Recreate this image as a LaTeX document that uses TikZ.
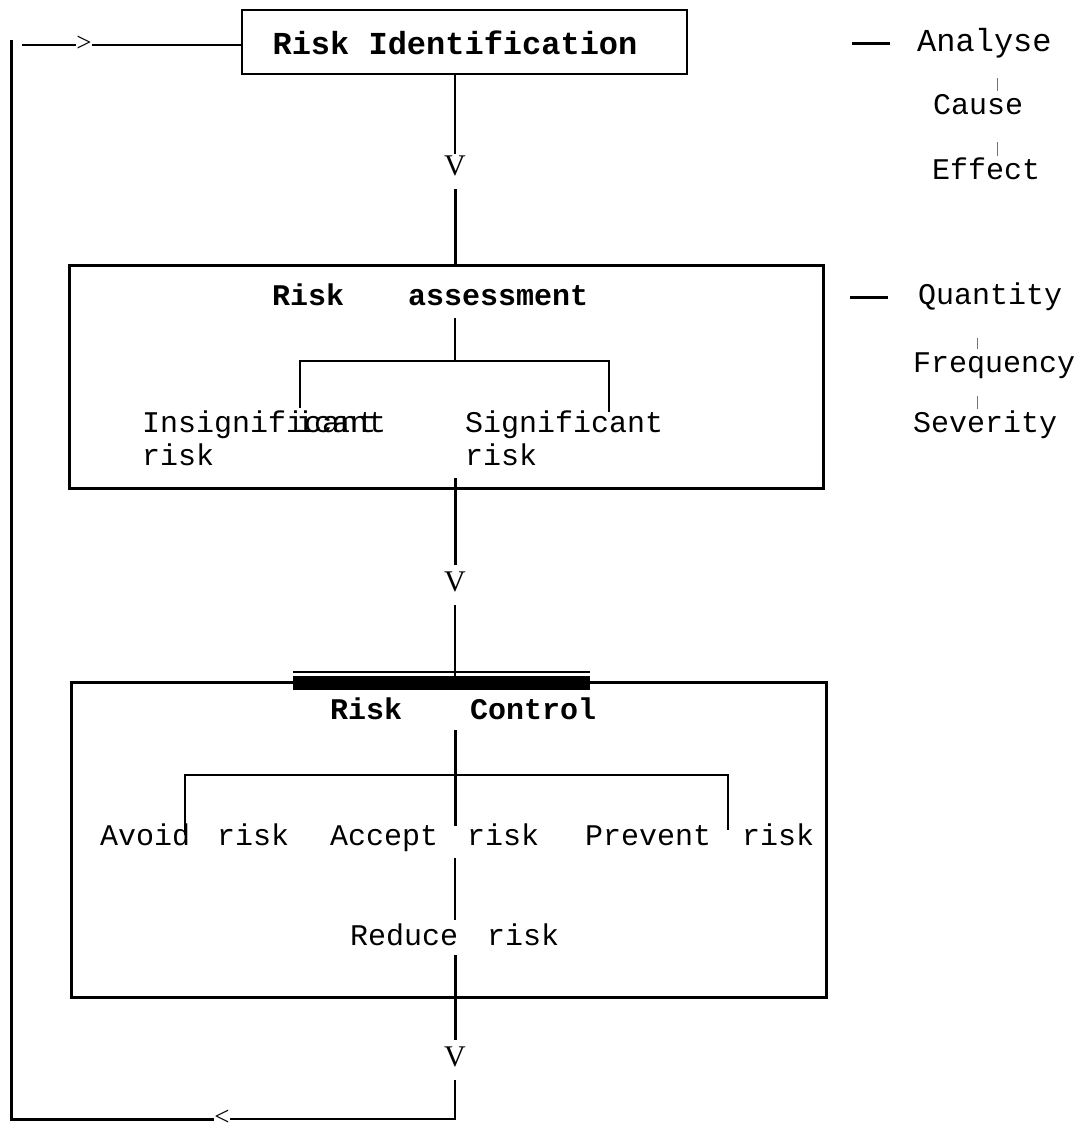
\documentclass[tikz,border=0pt]{standalone}
\usepackage{fontspec}
\setmainfont{Liberation Serif}
\newfontfamily\mono{Liberation Mono}
\begin{document}
\begin{tikzpicture}[x=1pt,y=-1pt,
  txt/.style={font=\mono\fontsize{30}{30}\selectfont, inner sep=0pt, anchor=west, text height=20pt, text depth=6pt},
  ttl/.style={txt, font=\mono\bfseries\fontsize{30}{30}\selectfont},
  vee/.style={font=\fontsize{30}{30}\selectfont, inner sep=2pt},
  chev/.style={font=\fontsize{27}{27}\selectfont, inner sep=0pt},
  heavy/.style={line width=3pt},
  lite/.style={line width=1.6pt},
  tickline/.style={line width=0.7pt, black!55},
  boxA/.style={draw, line width=1.5pt, inner sep=0pt},
  boxB/.style={draw, line width=3pt, inner sep=0pt}
]
\useasboundingbox (0,0) rectangle (1084,1132);

% ---------- Risk Identification ----------
\node[boxA, minimum width=445pt, minimum height=64pt] (rid) at (464.5,42) {};
\node[font=\mono\bfseries\fontsize{32}{32}\selectfont, inner sep=0pt] (ridt) at (455,43) {Risk Identification};

% feedback loop (top part)
\coordinate (a1) at (22,45);
\node[chev] (gt) at (84,44) {>};
\draw[lite] (a1) -- (gt.west |- a1);
\draw[lite] (gt.east |- a1) -- (a1 -| rid.west);

% arrow 1
\node[vee] (v1) at (455,166) {V};
\coordinate (c1) at (455,74);
\draw[lite] (c1) -- (v1.north);
\coordinate (c2) at (455,189);

% ---------- Risk assessment ----------
\node[boxB, minimum width=754pt, minimum height=223pt] (ra) at (446,376.5) {};
\draw[heavy] (c2) -- (c2 |- ra.north);
\node[ttl] (rat1) at (272,298) {Risk};
\node[ttl] (rat2) at (408,298) {assessment};
\coordinate (ra1) at (455,318);
\coordinate (rb) at (455,361);
\coordinate (dl) at (300,408);
\coordinate (dr) at (609,412);
\draw[lite] (ra1) -- (rb);
\draw[lite] (dl) |- (rb -| dr) -- (dr);
\node[txt] (ins) at (142,425) {Insignificant};
\node[txt] (insx) at (296,425) {icant};
\node[txt] (insr) at (142,458) {risk};
\node[txt] (sig) at (465,425) {Significant};
\node[txt] (sigr) at (465,458) {risk};

% arrow 2
\coordinate (c3) at (455,478);
\node[vee] (v2) at (455,582) {V};
\draw[heavy] (c3) -- (455,565);
\coordinate (c4) at (455,605);

% ---------- Risk Control ----------
\node[boxB, minimum width=755pt, minimum height=315pt] (rc) at (448.5,839.5) {};
\node[fill=black, minimum width=297pt, minimum height=14pt, inner sep=0pt] (bar) at (441.5,683) {};
\draw[lite] ([yshift=4pt]bar.north west) -- ([yshift=4pt]bar.north east);
\draw[lite] (c4) -- (c4 |- bar.north);
\node[ttl] (rc1) at (330,712) {Risk};
\node[ttl] (rc2) at (470,712) {Control};
\coordinate (cc1) at (455,730);
\coordinate (cc2) at (455,826);
\coordinate (cb) at (455,775);
\coordinate (el) at (185,835);
\coordinate (er) at (728,830);
\draw[heavy] (cc1) -- (cc2);
\draw[lite] (el) |- (cb -| er) -- (er);
\node[txt] (avd) at (100,838) {Avoid};
\node[txt] (avdr) at (217,838) {risk};
\node[txt] (acc) at (330,838) {Accept};
\node[txt] (accr) at (467,838) {risk};
\node[txt] (prv) at (585,838) {Prevent};
\node[txt] (prvr) at (742,838) {risk};
\coordinate (cr1) at (455,858);
\coordinate (cr2) at (455,920);
\draw[lite] (cr1) -- (cr2);
\node[txt] (red) at (350,938) {Reduce};
\node[txt] (redr) at (487,938) {risk};
\coordinate (cr3) at (455,955);
\draw[heavy] (cr3) -- (455,1040);

% arrow 3 and return loop
\node[vee] (v3) at (455,1057) {V};
\coordinate (c5) at (455,1080);
\coordinate (c6) at (455,1119);
\coordinate (c7) at (11,1119);
\coordinate (c8) at (11,40);
\node[chev] (lt) at (222,1118) {<};
\draw[lite] (c5) -- (c6) -- (c6 -| lt.east);
\draw[heavy] (lt.west |- c7) -- (c7) -- (c8);

% ---------- right-hand notes ----------
\coordinate (d1a) at (852,44);
\coordinate (d1b) at (890,44);
\draw[heavy] (d1a) -- (d1b);
\node[txt, font=\mono\fontsize{32}{32}\selectfont] (an) at (917,45) {Analyse};
\coordinate (t1a) at (997,78);
\coordinate (t1b) at (997,91);
\draw[tickline] (t1a) -- (t1b);
\node[txt] (ca) at (933,107) {Cause};
\coordinate (t2a) at (997,142);
\coordinate (t2b) at (997,156);
\draw[tickline] (t2a) -- (t2b);
\node[txt] (ef) at (932,172) {Effect};

\coordinate (d2a) at (850,297);
\coordinate (d2b) at (888,297);
\draw[heavy] (d2a) -- (d2b);
\node[txt] (qu) at (918,297) {Quantity};
\coordinate (t3a) at (977,338);
\coordinate (t3b) at (977,349);
\draw[tickline] (t3a) -- (t3b);
\node[txt] (fr) at (913,365) {Frequency};
\coordinate (t4a) at (977,396);
\coordinate (t4b) at (977,409);
\draw[tickline] (t4a) -- (t4b);
\node[txt] (se) at (913,425) {Severity};
\end{tikzpicture}
\end{document}
